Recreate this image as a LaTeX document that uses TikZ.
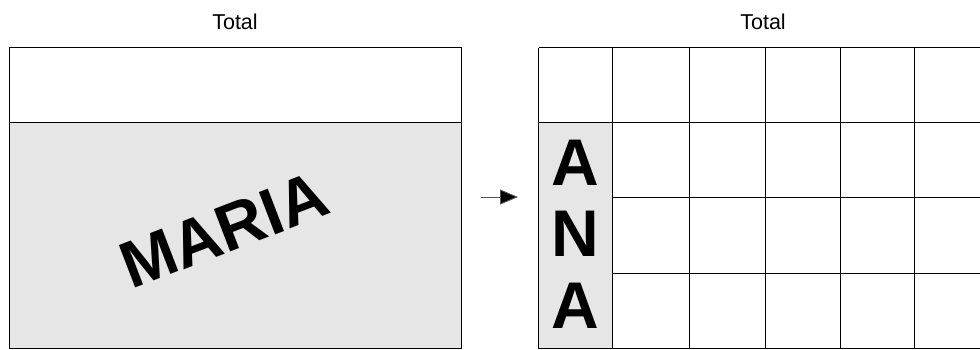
\documentclass[tikz,border=0pt]{standalone}
\usepackage{fontspec}
\setmainfont{Liberation Sans}
\usetikzlibrary{arrows.meta}
\definecolor{cellgray}{HTML}{E6E6E6}
\definecolor{linegray}{HTML}{555555}
\begin{document}
\begin{tikzpicture}[x=1pt,y=-1pt,line width=0.9pt,
  title/.style={font=\fontsize{21.5}{25}\selectfont},
  bigletter/.style={font=\fontsize{66}{70}\selectfont\bfseries, inner sep=0pt},
  gridline/.style={draw=black, line width=0.9pt},
  arrowline/.style={draw=linegray, line width=0.9pt, -{Triangle[length=18pt,width=15pt,fill=black]}}]
\useasboundingbox (0,0) rectangle (980,349);
% titles
\node[title] (t1) at (235,22) {Total};
\node[title] (t2) at (763,22) {Total};
% left box
\fill[cellgray] (9.5,122.5) rectangle (461.5,348.5);
\draw[gridline] (9.5,47.5) rectangle (461.5,348.5);
\draw[gridline] (9.5,122.5) -- (461.5,122.5);
\node[bigletter, rotate=21] (maria) at (224,230) {MARIA};
% right grid
\fill[cellgray] (538.5,122.5) rectangle (612.5,348.5);
\foreach \yy in {47.5,122.5,348.5}
  \draw[gridline] (538.5,\yy) -- (981,\yy);
\foreach \yy in {197.5,273.5}
  \draw[gridline] (612.5,\yy) -- (981,\yy);
\foreach \xx in {538.5,612.5,689.5,765,840.5,914.5}
  \draw[gridline] (\xx,47.5) -- (\xx,348.5);
\node[bigletter, anchor=base] (a1) at (575,185) {A};
\node[bigletter, anchor=base] (n1) at (575,256) {N};
\node[bigletter, anchor=base] (a2) at (575,328) {A};
% arrow
\coordinate (as) at (481,197);
\coordinate (ae) at (518,197);
\draw[arrowline] (as) -- (ae);
\end{tikzpicture}
\end{document}
